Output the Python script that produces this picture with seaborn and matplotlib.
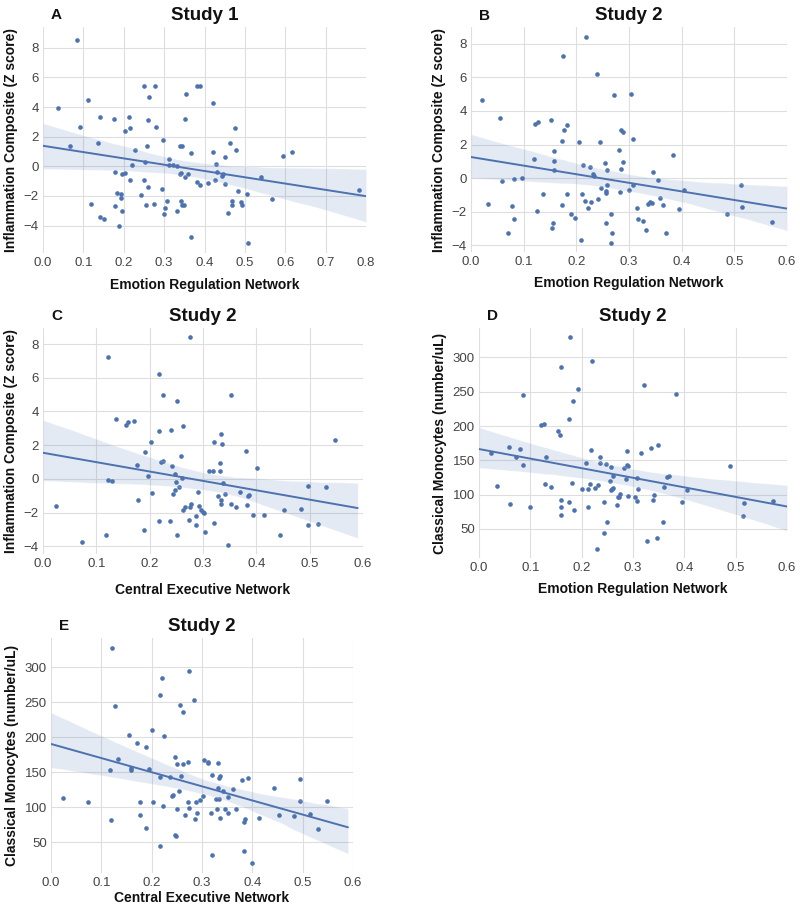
import numpy as np
import pandas as pd
import matplotlib
matplotlib.use("Agg")
import matplotlib.pyplot as plt
import seaborn as sns

# ---------------- Panel A: Study 1, Emotion Regulation Network vs Inflammation
a_x = [0.083, 0.038, 0.067, 0.091, 0.112, 0.120, 0.136, 0.141, 0.140, 0.150,
       0.175, 0.178, 0.178, 0.184, 0.188, 0.192, 0.192, 0.196, 0.196, 0.203,
       0.203, 0.214, 0.215, 0.215, 0.221, 0.228, 0.242, 0.250, 0.250, 0.252,
       0.254, 0.257, 0.259, 0.261, 0.262, 0.277, 0.274, 0.281, 0.294, 0.298,
       0.299, 0.303, 0.307, 0.312, 0.311, 0.321, 0.331, 0.332, 0.339, 0.340,
       0.341, 0.343, 0.344, 0.345, 0.350, 0.352, 0.352, 0.355, 0.360, 0.367,
       0.367, 0.382, 0.389, 0.381, 0.388, 0.408, 0.421, 0.421, 0.426, 0.428,
       0.431, 0.443, 0.445, 0.450, 0.452, 0.457, 0.463, 0.467, 0.469, 0.475,
       0.479, 0.483, 0.491, 0.492, 0.505, 0.507, 0.539, 0.567, 0.594, 0.617,
       0.782]
a_y = [8.50, 3.92, 1.35, 2.62, 4.48, -2.53, 1.57, 3.36, -3.41, -3.54,
       3.21, -0.40, -2.65, -1.79, -4.06, -1.88, -2.17, -0.52, -3.00, -0.45,
       2.35, 3.32, 2.58, -0.90, 0.07, 1.08, -1.97, 5.43, -0.92, 0.27,
       -2.62, 1.39, -1.39, 3.12, 4.71, 5.43, -2.53, 2.65, -1.52, 1.75,
       -3.20, -2.80, -2.35, 0.49, 0.07, 0.07, -3.03, 0.00, -0.52, 1.35,
       -2.33, -0.43, 1.35, -2.62, -2.62, -0.72, 3.18, 4.87, -0.49, 0.87,
       -4.78, 5.43, 5.43, -1.03, -1.26, -1.14, 4.24, 0.99, -0.92, 0.16,
       -0.36, -0.67, -0.54, -1.21, 0.61, -3.16, 1.55, -2.58, -2.35, 2.56,
       1.12, -1.68, -2.40, -2.62, -1.88, -5.20, -0.74, -2.20, 0.70, 0.99,
       -1.59]

# ---------------- Panel B: Study 2, Emotion Regulation Network vs Inflammation
b_x = [0.020, 0.032, 0.056, 0.058, 0.070, 0.077, 0.082, 0.082, 0.096, 0.120,
       0.122, 0.128, 0.125, 0.137, 0.151, 0.154, 0.156, 0.157, 0.157, 0.158,
       0.172, 0.173, 0.175, 0.177, 0.182, 0.183, 0.189, 0.197, 0.205, 0.210,
       0.209, 0.213, 0.216, 0.219, 0.223, 0.226, 0.228, 0.232, 0.233, 0.240,
       0.241, 0.244, 0.246, 0.255, 0.256, 0.256, 0.256, 0.258, 0.258, 0.266,
       0.267, 0.266, 0.272, 0.281, 0.283, 0.285, 0.285, 0.289, 0.289, 0.300,
       0.304, 0.307, 0.308, 0.315, 0.318, 0.326, 0.332, 0.337, 0.339, 0.344,
       0.346, 0.356, 0.359, 0.364, 0.370, 0.383, 0.395, 0.404, 0.486, 0.513,
       0.514, 0.572]
b_y = [4.63, -1.52, 3.60, -0.18, -3.29, -1.66, -0.08, -2.42, -0.02, 1.13,
       3.25, 3.37, -1.96, -0.93, 3.45, -2.99, -2.67, 1.60, 1.03, 0.51,
       2.22, -1.60, 7.25, 2.89, 3.17, -0.97, -2.16, -2.38, 2.18, -0.93,
       -3.70, 0.77, -1.39, 8.42, -1.78, 0.67, -1.43, 0.24, 0.12, 6.20,
       -1.23, 2.14, -0.57, 0.89, -0.79, -0.87, -2.67, 0.46, -0.38, -2.12,
       -3.25, -3.84, 4.97, 1.66, -0.81, 2.87, 0.53, 2.73, 0.97, -0.73,
       5.01, -0.40, 2.34, -1.80, -2.44, -2.55, -3.11, -1.54, -1.43, -1.49,
       0.34, -0.14, -1.21, -1.60, -3.29, 1.39, -1.82, -0.73, -2.12, -0.42,
       -1.74, -2.63]

# ---------------- Panel C: Study 2, Central Executive Network vs Inflammation
c_x = [0.025, 0.073, 0.118, 0.121, 0.121, 0.129, 0.136, 0.155, 0.160, 0.171,
       0.177, 0.178, 0.189, 0.191, 0.196, 0.202, 0.204, 0.217, 0.218, 0.218,
       0.221, 0.225, 0.225, 0.238, 0.240, 0.242, 0.244, 0.247, 0.247, 0.249,
       0.252, 0.252, 0.255, 0.258, 0.260, 0.262, 0.262, 0.267, 0.274, 0.275,
       0.277, 0.276, 0.286, 0.287, 0.290, 0.292, 0.297, 0.300, 0.302, 0.304,
       0.312, 0.318, 0.321, 0.321, 0.329, 0.331, 0.332, 0.333, 0.333, 0.333,
       0.336, 0.338, 0.342, 0.346, 0.353, 0.353, 0.362, 0.369, 0.381, 0.383,
       0.384, 0.387, 0.393, 0.401, 0.414, 0.445, 0.452, 0.483, 0.496, 0.497,
       0.515, 0.530, 0.548]
c_y = [-1.58, -3.75, -3.32, -0.04, 7.23, -0.12, 3.58, 3.22, 3.36, 3.42,
       0.85, -1.26, -3.02, 1.58, 0.16, 2.19, -0.83, 6.21, 2.87, -2.49,
       0.99, 1.07, 4.96, -2.49, 2.89, 0.75, -0.89, 0.32, -0.63, -0.20,
       4.60, -3.30, -0.45, 1.34, 0.08, 3.14, -1.82, -1.64, -2.41, -1.68,
       -1.50, 8.40, -2.19, -2.73, -0.79, -1.60, -1.82, -1.94, -2.02, -3.16,
       0.49, 0.49, -2.59, 2.17, -1.01, 0.97, 0.45, 2.69, -1.25, -1.48,
       2.09, -0.24, -0.87, -3.89, 5.00, -1.48, -1.64, -0.79, 1.64, -1.54,
       -1.03, -0.97, -2.15, 0.65, -2.15, -3.32, -1.86, -1.80, -0.42, -2.73,
       -2.69, -0.45, 2.31]

# ---------------- Panel D: Study 2, Emotion Regulation Network vs Monocytes
d_x = [0.023, 0.035, 0.058, 0.060, 0.072, 0.080, 0.085, 0.085, 0.099, 0.121,
       0.126, 0.128, 0.131, 0.140, 0.154, 0.157, 0.160, 0.160, 0.160, 0.160,
       0.175, 0.175, 0.178, 0.181, 0.184, 0.185, 0.192, 0.200, 0.208, 0.212,
       0.213, 0.217, 0.219, 0.221, 0.226, 0.229, 0.232, 0.235, 0.235, 0.244,
       0.244, 0.247, 0.249, 0.256, 0.257, 0.258, 0.260, 0.261, 0.262, 0.269,
       0.271, 0.272, 0.275, 0.282, 0.286, 0.288, 0.288, 0.291, 0.291, 0.303,
       0.307, 0.307, 0.310, 0.316, 0.321, 0.328, 0.335, 0.339, 0.340, 0.346,
       0.348, 0.358, 0.361, 0.366, 0.371, 0.384, 0.396, 0.406, 0.488, 0.515,
       0.516, 0.573]
d_y = [161.4, 112.7, 169.6, 86.0, 155.0, 166.2, 245.5, 143.4, 82.6, 201.8,
       203.2, 116.1, 155.0, 111.3, 192.5, 186.7, 285.9, 91.8, 82.6, 70.9,
       211.0, 89.4, 329.2, 117.1, 236.3, 78.2, 254.8, 107.9, 146.8, 107.9,
       82.6, 116.1, 164.8, 295.1, 109.8, 20.8, 114.2, 155.0, 146.3, 89.4,
       44.6, 145.3, 60.2, 120.5, 106.4, 141.0, 107.9, 126.8, 109.8, 84.5,
       97.2, 97.2, 101.1, 139.5, 123.0, 163.8, 143.9, 142.4, 97.7, 97.2,
       91.3, 124.4, 108.9, 161.4, 260.6, 32.5, 168.7, 91.8, 100.1, 37.4,
       172.6, 59.7, 111.3, 125.9, 126.8, 247.0, 89.9, 107.4, 142.4, 69.0,
       87.9, 90.9]

# ---------------- Panel E: Study 2, Central Executive Network vs Monocytes
e_x = [0.024, 0.073, 0.117, 0.120, 0.121, 0.128, 0.134, 0.154, 0.159, 0.159,
       0.170, 0.177, 0.177, 0.188, 0.189, 0.195, 0.201, 0.202, 0.216, 0.216,
       0.217, 0.220, 0.223, 0.224, 0.237, 0.240, 0.242, 0.246, 0.246, 0.248,
       0.250, 0.251, 0.255, 0.257, 0.259, 0.262, 0.262, 0.266, 0.273, 0.273,
       0.275, 0.275, 0.285, 0.286, 0.289, 0.291, 0.296, 0.301, 0.303, 0.311,
       0.312, 0.317, 0.320, 0.320, 0.328, 0.330, 0.331, 0.332, 0.333, 0.334,
       0.335, 0.336, 0.341, 0.345, 0.352, 0.352, 0.361, 0.367, 0.380, 0.383,
       0.385, 0.383, 0.392, 0.400, 0.413, 0.444, 0.452, 0.483, 0.494, 0.495,
       0.514, 0.530, 0.548]
e_y = [112.4, 107.1, 153.8, 81.9, 328.1, 244.8, 169.0, 202.9, 155.7, 153.3,
       191.9, 107.1, 89.0, 185.7, 70.5, 155.2, 210.0, 106.7, 43.8, 260.0,
       143.3, 284.8, 101.0, 201.4, 143.3, 115.7, 117.6, 172.4, 59.5, 59.0,
       96.7, 161.0, 123.3, 246.7, 145.2, 235.7, 161.0, 89.0, 165.2, 107.1,
       294.3, 99.0, 253.8, 82.4, 107.1, 91.0, 109.5, 115.2, 168.1, 163.3,
       164.3, 91.0, 146.2, 31.9, 110.9, 96.7, 163.8, 126.7, 141.9, 110.9,
       144.8, 84.8, 122.4, 96.7, 113.8, 91.0, 125.7, 96.7, 138.6, 78.1,
       82.4, 37.1, 141.4, 20.0, 84.8, 126.7, 89.0, 87.6, 108.6, 140.5,
       90.5, 68.6, 108.6]

letters = ["A", "B", "C", "D", "E"]
titles = ["Study 1", "Study 2", "Study 2", "Study 2", "Study 2"]
xlabels = ["Emotion Regulation Network", "Emotion Regulation Network",
           "Central Executive Network", "Emotion Regulation Network",
           "Central Executive Network"]
ylabels = ["Inflammation Composite (Z score)", "Inflammation Composite (Z score)",
           "Inflammation Composite (Z score)", "Classical Monocytes (number/uL)",
           "Classical Monocytes (number/uL)"]

sns.set_theme(style="whitegrid")
plt.rcParams['font.family'] = ['Liberation Sans', 'DejaVu Sans']
plt.rcParams['axes.unicode_minus'] = True

fig = plt.figure(figsize=(8, 9.06), dpi=100)

W, H = 800, 906
def rect(l, t, r, b):
    return [l / W, 1 - b / H, (r - l) / W, (b - t) / H]

panels = [
    dict(x=a_x, y=a_y, rect=rect(43, 27, 366, 253), xlim=(0, 0.8), line_end=0.8,
         ylim=(-5.85, 9.4), xticks=np.arange(0, 0.81, 0.1), yticks=[-4, -2, 0, 2, 4, 6, 8], xpad=6),
    dict(x=b_x, y=b_y, rect=rect(471, 27, 787, 252), xlim=(0, 0.6), line_end=0.6,
         ylim=(-4.4, 9.0), xticks=np.arange(0, 0.61, 0.1), yticks=[-4, -2, 0, 2, 4, 6, 8], xpad=6),
    dict(x=c_x, y=c_y, rect=rect(43, 328, 363, 554), xlim=(0, 0.6), line_end=0.59,
         ylim=(-4.45, 8.95), xticks=np.arange(0, 0.61, 0.1), yticks=[-4, -2, 0, 2, 4, 6, 8], xpad=9),
    dict(x=d_x, y=d_y, rect=rect(479, 328, 787, 558), xlim=(0, 0.6), line_end=0.6,
         ylim=(7.7, 343), xticks=np.arange(0, 0.61, 0.1), yticks=[50, 100, 150, 200, 250, 300], xpad=6),
    dict(x=e_x, y=e_y, rect=rect(51, 638, 353, 873), xlim=(0, 0.6), line_end=0.59,
         ylim=(5.7, 342), xticks=np.arange(0, 0.61, 0.1), yticks=[50, 100, 150, 200, 250, 300], xpad=1),
]

color = "#4c72b0"
for i, p in enumerate(panels):
    ax = fig.add_axes(p["rect"])
    df = pd.DataFrame({"x": p["x"], "y": p["y"]})
    ax.set_xlim(0, p["line_end"])
    sns.regplot(data=df, x="x", y="y", ax=ax, truncate=False, color=color, seed=0,
                scatter_kws=dict(s=11, linewidths=0, alpha=1),
                line_kws=dict(lw=1.4))
    ax.set_xlim(*p["xlim"])
    ax.set_ylim(*p["ylim"])
    ax.set_xticks(p["xticks"])
    ax.set_xticklabels([f"{v:.1f}" for v in p["xticks"]])
    ax.set_yticks(p["yticks"])
    for s in ax.spines.values():
        s.set_visible(False)
    ax.grid(True, color="#dedede", lw=0.8)
    ax.tick_params(axis="both", labelsize=9.5, colors="#444444", length=0, pad=3)
    ax.set_xlabel(xlabels[i], fontsize=10, fontweight="bold", color="#111111", labelpad=p["xpad"])
    ax.set_ylabel(ylabels[i], fontsize=10, fontweight="bold", color="#111111", labelpad=4)
    ax.set_title(titles[i], fontsize=13.5, fontweight="bold", color="#111111", pad=5)
    ax.text(0.025, 1.02, letters[i], transform=ax.transAxes, fontsize=11,
            fontweight="bold", color="#111111", ha="left", va="bottom")

fig.savefig("out.png", dpi=100)
